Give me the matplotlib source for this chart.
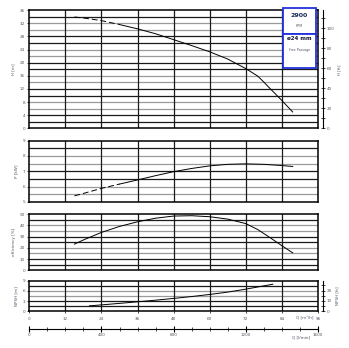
import numpy as np
import matplotlib
matplotlib.use("Agg")
import matplotlib.pyplot as plt
from matplotlib.patches import Rectangle

# ---------------------------------------------------------------------------
# Data (read from the reference curve sheet)
# ---------------------------------------------------------------------------
Q_H = [15, 18, 24, 30, 36, 42, 48, 54, 60, 66, 72, 76, 78, 80, 84, 87.6]
H_M = [33.9, 33.6, 32.8, 31.6, 30.3, 28.8, 27.0, 25.2, 23.3, 21.1, 18.2, 15.9, 14.1, 12.2, 8.5, 5.0]

Q_P = [15, 18, 24, 30, 36, 42, 48, 54, 60, 66, 72, 78, 84, 87.6]
P_KW = [5.39, 5.55, 5.88, 6.16, 6.43, 6.71, 6.97, 7.18, 7.35, 7.45, 7.48, 7.45, 7.37, 7.31]

Q_E = [15, 18, 24, 30, 36, 42, 48, 54, 60, 66, 72, 76, 80, 84, 87.6]
EFF = [23.3, 27.0, 33.7, 39.0, 43.1, 46.3, 48.2, 48.5, 47.6, 45.5, 41.5, 36.2, 29.2, 21.9, 15.6]

Q_N = [20, 24, 30, 36, 42, 48, 54, 60, 66, 72, 78, 81]
NPSH = [1.57, 1.85, 2.3, 2.77, 3.25, 3.77, 4.33, 4.95, 5.65, 6.53, 7.5, 8.0]

Q_DASH_END = 30          # curves are dashed below this flow
Q_TICKS = [0, 12, 24, 36, 48, 60, 72, 84, 96]
LMIN_TICKS = [0, 400, 800, 1200, 1600]
RPM = "2900"
PASSAGE = "ø24 mm"
M_TO_FT = 3.2808

# ---------------------------------------------------------------------------
# Style
# ---------------------------------------------------------------------------
TXT = "#555566"
GRID_DARK = "#1a1a1a"
GRID_GREY = "#9a9a9a"
BLUE = "#2233dd"
FS = 3.0

plt.rcParams["font.family"] = ["DejaVu Sans"]

fig = plt.figure(figsize=(3.49, 3.48), dpi=100, facecolor="white")
L, W = 0.084, 0.827
ax1 = fig.add_axes([L, 0.631, W, 0.340])
ax2 = fig.add_axes([L, 0.420, W, 0.176])
ax3 = fig.add_axes([L, 0.223, W, 0.162])
ax4 = fig.add_axes([L, 0.106, W, 0.087])


def frame(ax, lo, ymax, step, label_step, ylabel):
    ax.set_xlim(0, 96)
    ax.set_ylim(lo, ymax)
    ax.set_xticks(Q_TICKS)
    ax.set_yticks(np.arange(lo, ymax + 1e-6, label_step))
    ax.tick_params(axis="y", direction="out", length=1.5, width=0.5,
                   labelsize=FS, labelcolor=TXT, pad=1.5)
    ax.tick_params(axis="x", length=0, labelbottom=False)
    for sp in ax.spines.values():
        sp.set_linewidth(1.1)
        sp.set_color("black")
    # horizontal grid
    vals = np.arange(lo + step, ymax - 1e-6, step)
    for i, v in enumerate(vals[::-1]):
        col = GRID_GREY if (i % 4) in (1, 2) else GRID_DARK
        ax.axhline(v, color=col, lw=0.9, zorder=1)
    for x in Q_TICKS[1:-1]:
        ax.axvline(x, color=GRID_DARK, lw=0.9, zorder=1)
    ax.set_ylabel(ylabel, fontsize=FS, color=TXT, labelpad=3)


def curve(ax, q, v, dashed=True):
    q = np.array(q, dtype=float)
    v = np.array(v, dtype=float)
    if dashed:
        m = q <= Q_DASH_END
        ax.plot(q[m], v[m], color="black", lw=0.7, ls=(0, (6, 3)), zorder=3)
        k = np.searchsorted(q, Q_DASH_END)
        ax.plot(q[k:], v[k:], color="black", lw=0.7, zorder=3)
    else:
        ax.plot(q, v, color="black", lw=0.7, zorder=3)


def ft_axis(ax, top_m, major, minor, label):
    tw = ax.twinx()
    tw.set_ylim(0, top_m * M_TO_FT)
    tw.set_yticks(major)
    tw.set_yticks(minor, minor=True)
    for s in ("top", "bottom", "left"):
        tw.spines[s].set_visible(False)
    tw.spines["right"].set_position(("outward", 4))
    tw.spines["right"].set_linewidth(0.8)
    tw.tick_params(axis="y", which="both", direction="inout", length=3,
                   width=0.5, labelsize=FS, labelcolor=TXT, pad=1)
    tw.set_ylabel(label, fontsize=FS, color=TXT, labelpad=2)
    return tw


# ── Head ──────────────────────────────────────────────────────────────────
frame(ax1, 0, 36, 2, 4, "H [m]")
curve(ax1, Q_H, H_M)
ft_axis(ax1, 36, [0, 20, 40, 60, 80, 100], np.arange(10, 120, 20), "H [ft]")

# RPM / passage box
bx0, bx1, by0, by1, bmid = 0.878, 0.992, 0.512, 1.014, 0.795
for (y0, y1) in ((bmid, by1), (by0, bmid)):
    ax1.add_patch(Rectangle((bx0, y0), bx1 - bx0, y1 - y0, transform=ax1.transAxes,
                            facecolor="white", edgecolor=BLUE, lw=1.3,
                            zorder=5, clip_on=False))
xc = (bx0 + bx1) / 2
ax1.text(xc, 0.958, RPM, transform=ax1.transAxes, ha="center", va="center",
         fontsize=4.5, fontweight="bold", color="#1a2a5a", zorder=6)
ax1.text(xc, 0.867, "RPM", transform=ax1.transAxes, ha="center", va="center",
         fontsize=2.3, color=TXT, zorder=6)
ax1.text(xc, 0.761, PASSAGE, transform=ax1.transAxes, ha="center", va="center",
         fontsize=4.0, fontweight="bold", color="#1a1a3a", zorder=6)
ax1.text(xc, 0.662, "Free Passage", transform=ax1.transAxes, ha="center",
         va="center", fontsize=2.3, color=TXT, zorder=6)

# ── Power ─────────────────────────────────────────────────────────────────
frame(ax2, 5, 9, 0.5, 1, "P [kW]")
curve(ax2, Q_P, P_KW)

# ── Efficiency ────────────────────────────────────────────────────────────
frame(ax3, 0, 50, 5, 10, "efficiency [%]")
curve(ax3, Q_E, EFF, dashed=False)

# ── NPSH ──────────────────────────────────────────────────────────────────
frame(ax4, 0, 9, 1.5, 3, "NPSH [m]")
curve(ax4, Q_N, NPSH, dashed=False)
ax4.tick_params(axis="x", length=1.5, width=0.5, direction="out",
                labelbottom=True, labelsize=FS, labelcolor=TXT, pad=3)
ft_axis(ax4, 9, [0, 10, 20], [5, 15, 25], "NPSH [ft]")

ax4.text(0.955, -0.25, "Q [m³/h]", transform=ax4.transAxes, ha="center",
         va="center", fontsize=FS, color=TXT)

# l/min axis
sec = ax4.secondary_xaxis(-0.6, functions=(lambda q: q * 1000 / 60,
                                           lambda l: l * 60 / 1000))
sec.set_xticks(LMIN_TICKS)
sec.set_xticks(np.arange(0, 1601, 100), minor=True)
sec.spines["bottom"].set_linewidth(0.8)
sec.tick_params(which="major", direction="inout", length=4, width=0.8,
                labelsize=FS, labelcolor=TXT, pad=1)
sec.tick_params(which="minor", direction="inout", length=2.5, width=0.5)
ax4.text(0.94, -0.87, "Q [l/min]", transform=ax4.transAxes, ha="center",
         va="center", fontsize=FS, color=TXT)

fig.savefig("out.png", dpi=100, facecolor="white")
plt.close(fig)
